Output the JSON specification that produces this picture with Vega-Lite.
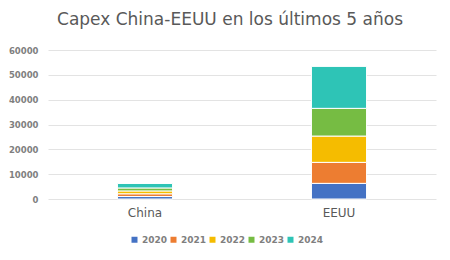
{
  "$schema": "https://vega.github.io/schema/vega-lite/v6.json",
  "autosize": "none",
  "width": 388,
  "height": 149,
  "padding": {"left": 48, "top": 50, "right": 14, "bottom": 61},
  "background": "white",
  "title": {
    "text": "Capex China-EEUU en los últimos 5 años",
    "font": "DejaVu Sans",
    "fontSize": 17,
    "fontWeight": "normal",
    "color": "#595959",
    "anchor": "middle",
    "dx": -12,
    "offset": 17
  },
  "data": {
    "values": [
      {"pais": "China", "anio": "2020", "capex": 1000},
      {"pais": "China", "anio": "2021", "capex": 1100},
      {"pais": "China", "anio": "2022", "capex": 1150},
      {"pais": "China", "anio": "2023", "capex": 1200},
      {"pais": "China", "anio": "2024", "capex": 1800},
      {"pais": "EEUU", "anio": "2020", "capex": 6300},
      {"pais": "EEUU", "anio": "2021", "capex": 8450},
      {"pais": "EEUU", "anio": "2022", "capex": 10600},
      {"pais": "EEUU", "anio": "2023", "capex": 11150},
      {"pais": "EEUU", "anio": "2024", "capex": 16900}
    ]
  },
  "mark": {"type": "bar", "stroke": "white", "strokeWidth": 1},
  "encoding": {
    "x": {
      "field": "pais",
      "type": "nominal",
      "scale": {"paddingInner": 0.716, "paddingOuter": 0.358},
      "axis": {
        "title": null,
        "labelAngle": 0,
        "domain": false,
        "ticks": false,
        "labelFont": "DejaVu Sans",
        "labelFontSize": 12,
        "labelColor": "#595959",
        "labelPadding": 8
      }
    },
    "y": {
      "field": "capex",
      "type": "quantitative",
      "stack": "zero",
      "scale": {"domain": [0, 60000]},
      "axis": {
        "title": null,
        "values": [0, 10000, 20000, 30000, 40000, 50000, 60000],
        "format": "d",
        "domain": false,
        "ticks": false,
        "labelFont": "DejaVu Sans",
        "labelFontSize": 8.5,
        "labelFontWeight": "bold",
        "labelColor": "#7f7f7f",
        "labelPadding": 10,
        "gridColor": "#e3e3e3",
        "gridWidth": 1
      }
    },
    "order": {"field": "anio", "type": "ordinal", "sort": "ascending"},
    "color": {
      "field": "anio",
      "type": "nominal",
      "scale": {
        "domain": ["2020", "2021", "2022", "2023", "2024"],
        "range": ["#4472C4", "#ED7D31", "#F5BC00", "#76BC43", "#2EC4B6"]
      },
      "legend": {
        "title": null,
        "orient": "none",
        "legendX": 82,
        "legendY": 185,
        "direction": "horizontal",
        "symbolType": "square",
        "symbolSize": 36,
        "symbolStrokeWidth": 0,
        "labelFont": "DejaVu Sans",
        "labelFontSize": 9,
        "labelFontWeight": "bold",
        "labelColor": "#7f7f7f",
        "columnPadding": 1,
        "labelOffset": 3
      }
    }
  },
  "config": {
    "view": {"stroke": null}
  }
}
